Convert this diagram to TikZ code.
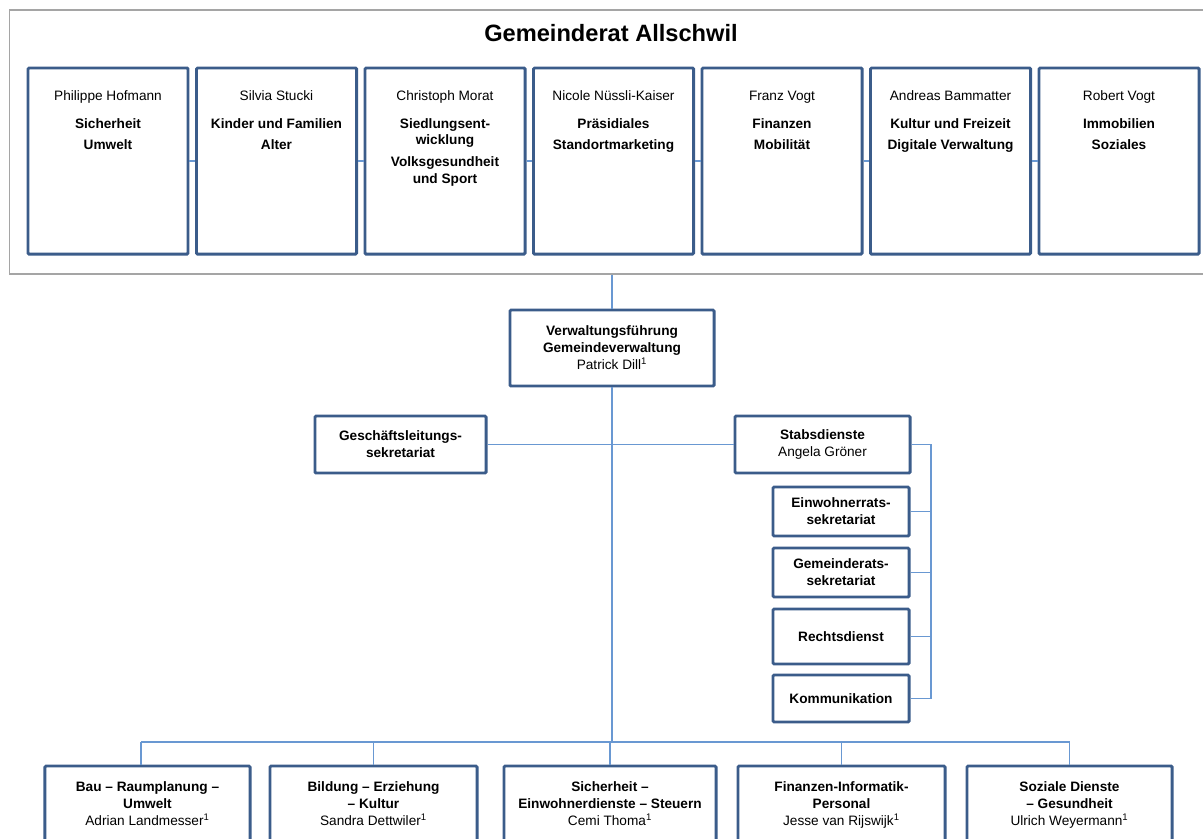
\documentclass[tikz,border=0pt]{standalone}
\usepackage{fontspec}
\setmainfont{Liberation Sans}
\usetikzlibrary{positioning}
\definecolor{boxblue}{RGB}{59,92,138}
\definecolor{linkblue}{RGB}{105,152,210}
\definecolor{framegray}{RGB}{165,165,165}
\begin{document}
\begin{tikzpicture}[x = 0.025cm, y = -0.025cm,
                        frame/.style = {draw = framegray, line width = 0.9pt, minimum width = 30.125cm, minimum height = 6.6cm},
                        title/.style = {inner sep = 0pt, font = \fontsize{16.8}{20}\selectfont\bfseries},
                        box/.style = {draw = boxblue, fill = white, line width = 2.1pt, rounded corners = 0.8pt, align = center, inner sep = 0pt, font = \fontsize{9.7}{12.1}\selectfont},
                        cbox/.style = {box, minimum width = 4cm, minimum height = 4.65cm},
                        txt/.style = {align = center, inner sep = 0pt, font = \fontsize{9.7}{11}\selectfont},
                        btxt/.style = {align = center, inner sep = 0pt, font = \fontsize{9.7}{12.1}\selectfont},
                        conn/.style = {draw = linkblue, line width = 0.9pt}]
      \useasboundingbox (0, 0) rectangle (1203, 838);
      \node [frame] (rat) at (612.5, 142){};
      \node [title] (titel) at (611, 33){Gemeinderat Allschwil};
      \node [cbox] (c1) at (108, 161){};
      \node [cbox] (c2) at (276.5, 161){};
      \node [cbox] (c3) at (445, 161){};
      \node [cbox] (c4) at (613.5, 161){};
      \node [cbox] (c5) at (782, 161){};
      \node [cbox] (c6) at (950.5, 161){};
      \node [cbox] (c7) at (1119, 161){};
      \draw [conn] (c1) -- (c2) (c2) -- (c3) (c3) -- (c4) (c4) -- (c5) (c5) -- (c6) (c6) -- (c7);
      \node [txt, below = 0.6cm of c1.north] (t1){Philippe Hofmann\\[9pt]\textbf{Sicherheit}\\[4pt]\textbf{Umwelt}};
      \node [txt, below = 0.6cm of c2.north] (t2){Silvia Stucki\\[9pt]\textbf{Kinder und Familien}\\[4pt]\textbf{Alter}};
      \node [txt, below = 0.6cm of c3.north] (t3){Christoph Morat\\[9pt]\textbf{Siedlungsent-}\\\textbf{wicklung}\\[4.6pt]\textbf{Volksgesundheit}\\[1pt]\textbf{und Sport}};
      \node [txt, below = 0.6cm of c4.north] (t4){Nicole Nüssli-Kaiser\\[9pt]\textbf{Präsidiales}\\[4pt]\textbf{Standortmarketing}};
      \node [txt, below = 0.6cm of c5.north] (t5){Franz Vogt\\[9pt]\textbf{Finanzen}\\[4pt]\textbf{Mobilität}};
      \node [txt, below = 0.6cm of c6.north] (t6){Andreas Bammatter\\[9pt]\textbf{Kultur und Freizeit}\\[4pt]\textbf{Digitale Verwaltung}};
      \node [txt, below = 0.6cm of c7.north] (t7){Robert Vogt\\[9pt]\textbf{Immobilien}\\[4pt]\textbf{Soziales}};
      \node [box, minimum width = 5.1cm, minimum height = 1.9cm] (verw) at (612, 348){\textbf{Verwaltungsführung}\\\textbf{Gemeindeverwaltung}\\Patrick Dill\textsuperscript{1}};
      \node [box, minimum width = 4.275cm, minimum height = 1.425cm] (gls) at (400.5, 444.5){\textbf{Geschäftsleitungs-}\\\textbf{sekretariat}};
      \node [box, minimum width = 4.375cm, minimum height = 1.425cm] (stabs) at (822.5, 444.5){\textbf{Stabsdienste}\\Angela Gröner};
      \node [box, minimum width = 3.4cm, minimum height = 1.225cm] (ew) at (841, 511.5){\textbf{Einwohnerrats-}\\\textbf{sekretariat}};
      \node [box, minimum width = 3.4cm, minimum height = 1.225cm] (gr) at (841, 572.5){\textbf{Gemeinderats-}\\\textbf{sekretariat}};
      \node [box, minimum width = 3.4cm, minimum height = 1.375cm] (rd) at (841, 636.5){\textbf{Rechtsdienst}};
      \node [box, minimum width = 3.4cm, minimum height = 1.175cm] (kom) at (841, 698.5){\textbf{Kommunikation}};
      \coordinate (brk) at (931, 444.5);
      \coordinate (bus) at (611, 742);
      \node [box, minimum width = 5.125cm, minimum height = 2.6cm] (b1) at (147.5, 818){};
      \node [box, minimum width = 5.175cm, minimum height = 2.6cm] (b2) at (373.5, 818){};
      \node [box, minimum width = 5.3cm, minimum height = 2.6cm] (b3) at (610, 818){};
      \node [box, minimum width = 5.175cm, minimum height = 2.6cm] (b4) at (841.5, 818){};
      \node [box, minimum width = 5.125cm, minimum height = 2.6cm] (b5) at (1069.5, 818){};
      \node [btxt, below = 0.425cm of b1.north] (u1){\textbf{Bau -- Raumplanung --}\\\textbf{Umwelt}\\Adrian Landmesser\textsuperscript{1}};
      \node [btxt, below = 0.425cm of b2.north] (u2){\textbf{Bildung -- Erziehung}\\\textbf{-- Kultur}\\Sandra Dettwiler\textsuperscript{1}};
      \node [btxt, below = 0.425cm of b3.north] (u3){\textbf{Sicherheit --}\\\textbf{Einwohnerdienste -- Steuern}\\Cemi Thoma\textsuperscript{1}};
      \node [btxt, below = 0.425cm of b4.north] (u4){\textbf{Finanzen-Informatik-}\\\textbf{Personal}\\Jesse van Rijswijk\textsuperscript{1}};
      \node [btxt, below = 0.425cm of b5.north] (u5){\textbf{Soziale Dienste}\\\textbf{-- Gesundheit}\\Ulrich Weyermann\textsuperscript{1}};
      \coordinate (d1) at (141, 742);
      \draw [conn] (verw.north |- rat.south) -- (verw.north);
      \draw [conn] (verw.south) -- (verw.south |- bus);
      \draw [conn] (gls) -- (stabs);
      \draw [conn] (stabs.east) -| (brk |- kom.east) -- (kom.east);
      \foreach \n in {ew, gr, rd}
        \draw [conn] (\n.east) -- (\n.east -| brk);
      \draw [conn] (d1) -- (b5.north |- bus);
      \draw [conn] (d1) -- (d1 |- b1.north);
      \foreach \n in {b2, b3, b4, b5}
        \draw [conn] (\n.north |- bus) -- (\n.north);
    \end{tikzpicture}
\end{document}
